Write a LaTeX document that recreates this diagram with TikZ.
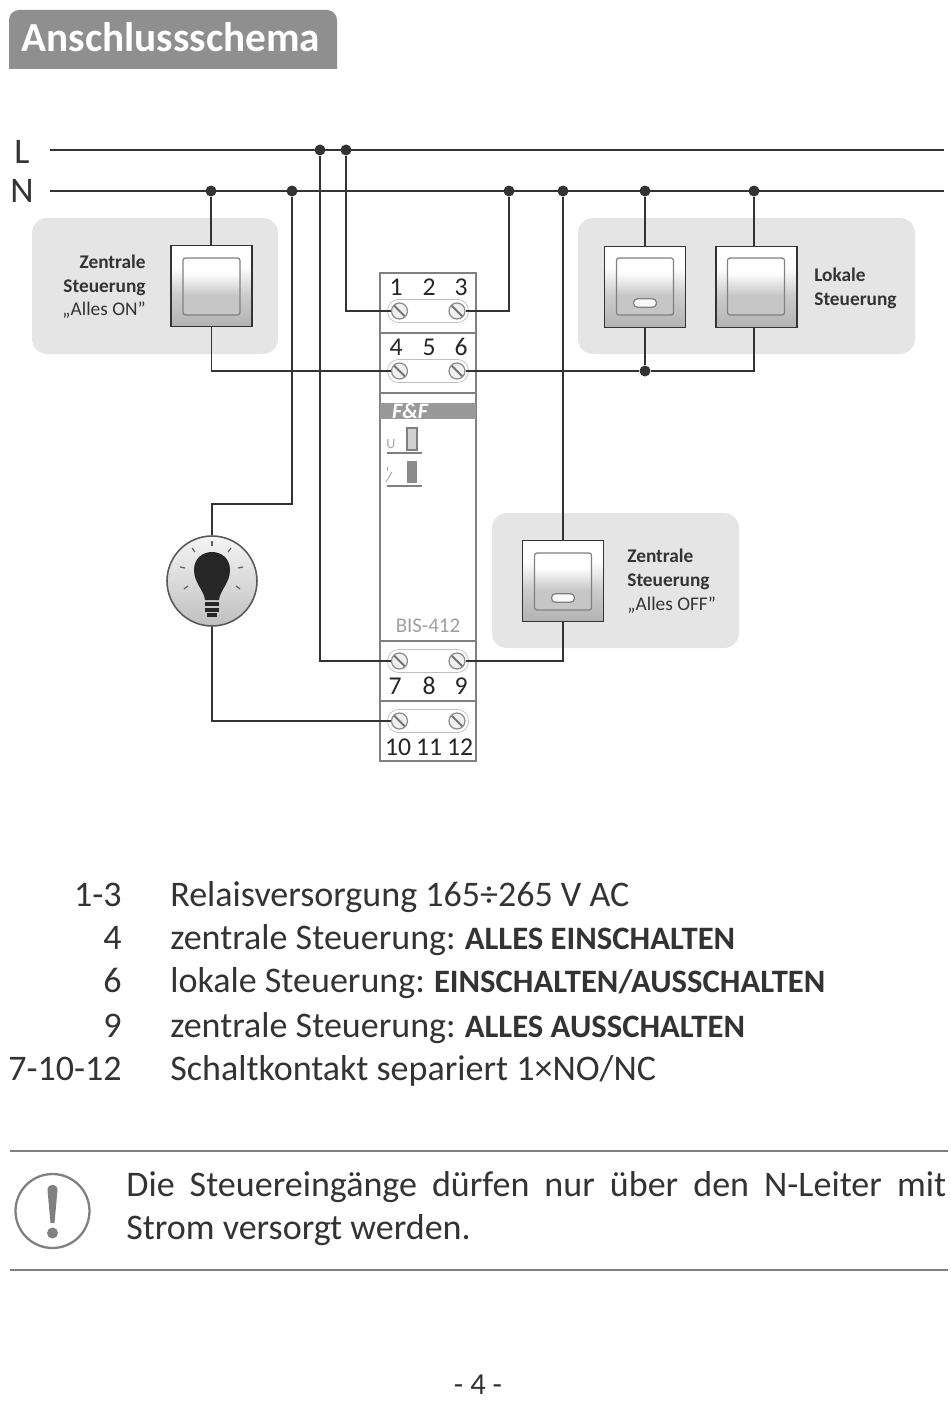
\documentclass[tikz,border=0pt]{standalone}
\usepackage{fontspec}
\setmainfont{Carlito}
\usetikzlibrary{calc}
\usetikzlibrary{positioning}

\pgfdeclareverticalshading{switchface}{100bp}{color(0bp)=(gray!60); color(25bp)=(gray!60); color(45bp)=(gray!40); color(62bp)=(white); color(75bp)=(white); color(100bp)=(white)}
\pgfdeclareverticalshading{innerface}{100bp}{color(0bp)=(gray!45); color(25bp)=(gray!45); color(42bp)=(gray!45); color(62bp)=(white); color(75bp)=(white); color(100bp)=(white)}

\newcommand{\bodysize}{\fontsize{20.5}{24.5}\selectfont}
\newcommand{\capsize}{\fontsize{18.6}{20}\selectfont\bfseries}
\newcommand{\smallsize}{\fontsize{11}{13.4}\selectfont}

\tikzset{
  wire/.style={draw=black!80, line width=0.8pt},
  jdot/.style={circle, fill=black!80, minimum size=0.22cm, inner sep=0pt},
  panel/.style={fill=gray!20, rounded corners=0.3cm},
  switchbox/.style={rectangle, draw=black!80, line width=0.9pt, shading=switchface, minimum width=1.62cm, minimum height=1.62cm, inner sep=0pt},
  switchtop/.style={rectangle, draw=gray, line width=0.7pt, rounded corners=0.05cm, shading=innerface, minimum size=1.14cm, inner sep=0pt},
  ledbar/.style={rectangle, draw=gray, line width=0.7pt, fill=white!95!gray, rounded corners=0.08cm, minimum width=0.46cm, minimum height=0.17cm, inner sep=0pt},
  pill/.style={rectangle, draw=gray!50, line width=0.4pt, fill=white, rounded corners=0.22cm, minimum width=1.62cm, minimum height=0.46cm, inner sep=0pt},
  screw/.style={circle, draw=gray!90, line width=0.7pt, fill=gray!12, minimum size=0.32cm, inner sep=0pt,
    path picture={\draw[gray!90!black, line width=1.2pt] (path picture bounding box.north west) -- (path picture bounding box.south east);}},
  pin/.style={text=black!85, font=\fontsize{14.6}{16}\selectfont, inner sep=0pt},
  lab/.style={text=black!80, font=\smallsize, inner sep=0pt},
  body/.style={text=black!80, font=\bodysize, inner sep=0pt}
}

\begin{document}
\begin{tikzpicture}[x=0.02cm, y=-0.02cm]
\useasboundingbox (0,0) rectangle (950,1402);

% title
\fill[gray!88] (9,69) [rounded corners=0.2cm] -- (9,10) -- (337,10) [sharp corners] -- (337,69) -- cycle;
\node[text=white, font=\fontsize{23.5}{26}\selectfont\bfseries, inner sep=0pt, anchor=base west] (title) at (21,52) {Anschlussschema};

% grey panels
\fill[panel] (32,218) rectangle (278,354);
\fill[panel] (578,218) rectangle (915,354);
\fill[panel] (492,513) rectangle (739,648);

% device
\node[draw=gray, line width=0.7pt, fill=white, minimum width=1.92cm, minimum height=9.76cm, inner sep=0pt] (relay) at (428,517) {};
\draw[gray, line width=0.7pt] (380,333) -- (476,333);
\draw[gray, line width=0.7pt] (380,393) -- (476,393);
\draw[gray, line width=0.7pt] (380,641) -- (476,641);
\draw[gray, line width=0.7pt] (380,701) -- (476,701);

\fill[gray!80] (380,403) rectangle (476,419);
\node[text=white, font=\fontsize{12.5}{13}\selectfont\bfseries\itshape, inner sep=0pt] (logo) at (410,411) {F\&F};

\node[text=gray!70, font=\fontsize{8}{9}\selectfont, inner sep=0pt] (ulabel) at (391,444) {U};
\draw[gray, line width=0.6pt, fill=gray!35] (407,428) rectangle (417,450);
\draw[gray, line width=0.7pt] (387,453) -- (422,453);
\draw[gray!70, line width=0.5pt] (386,482) -- (392,472);
\draw[gray!70, line width=0.5pt] (387,467) -- (387,471);
\fill[gray!90] (407,461) rectangle (417,483);
\draw[gray, line width=0.7pt] (387,486) -- (422,486);

\node[text=gray!75, font=\fontsize{11.9}{14}\selectfont, inner sep=0pt] (model) at (428,626) {BIS-412};

% terminal strips
\node[pill] (pa) at (428,311) {};
\node[pill] (pb) at (428,371) {};
\node[pill] (pc) at (428,661) {};
\node[pill] (pd) at (428,721) {};

\node[screw] (s1) at (399.5,311) {};
\node[screw] (s3) at (457,311) {};
\node[screw] (s4) at (399.5,371) {};
\node[screw] (s6) at (457,371) {};
\node[screw] (s7) at (399.5,661) {};
\node[screw] (s9) at (457,661) {};
\node[screw] (s10) at (399.5,721) {};
\node[screw] (s12) at (457,721) {};

\node[pin] (n1) at (396,287) {1};
\node[pin] (n2) at (429,287) {2};
\node[pin] (n3) at (461,287) {3};
\node[pin] (n4) at (396,347) {4};
\node[pin] (n5) at (429,347) {5};
\node[pin] (n6) at (461,347) {6};
\node[pin] (n7) at (395,686) {7};
\node[pin] (n8) at (429,686) {8};
\node[pin] (n9) at (461,686) {9};
\node[pin] (n10) at (398,747) {10};
\node[pin] (n11) at (429,747) {11};
\node[pin] (n12) at (460,747) {12};

% L and N
\node[body] (lname) at (22,152) {L};
\node[body] (nname) at (22,191) {N};
\coordinate (lstart) at (50,150);
\coordinate (lend) at (944,150);
\coordinate (nstart) at (50,191);
\coordinate (nend) at (944,191);

\node[jdot] (la) at (320,150) {};
\node[jdot] (lb) at (346,150) {};
\node[jdot] (na) at (211,191) {};
\node[jdot] (nb) at (292,191) {};
\node[jdot] (nc) at (509,191) {};
\node[jdot] (nd) at (563,191) {};
\node[jdot] (ne) at (645,191) {};
\node[jdot] (nf) at (754,191) {};
\node[jdot] (low) at (645,371) {};

% switches
\node[switchbox] (swon) at (211.5,286) {};
\node[switchbox] (swoff) at (563,581) {};
\node[switchbox] (swa) at (645,287) {};
\node[switchbox] (swb) at (756.5,287) {};

\node[switchtop] (topon) at (211.5,286.5) {};
\node[switchtop] (topoff) at (563,581.5) {};
\node[switchtop] (topa) at (645,286.5) {};
\node[switchtop] (topb) at (756,286.5) {};
\node[ledbar] (leda) at (645,303) {};
\node[ledbar] (ledoff) at (563,598) {};

% lamp
\node[circle, draw=black!65, line width=0.9pt, top color=gray!8, bottom color=gray!50, minimum size=1.8cm, inner sep=0pt] (lamp) at (212,581) {};
\coordinate (lampup) at (212,504);

\fill[black!85] (205,600) .. controls (204,590) and (194,583) .. (194,570)
  .. controls (194,546) and (230,546) .. (230,570)
  .. controls (230,583) and (220,590) .. (219,600) -- cycle;
\fill[black!85] (205,602) rectangle (219,606);
\fill[black!85] (205,608) rectangle (219,612);
\fill[black!85] (207,613) rectangle (217,617);

\draw[gray!75!black, line width=0.7pt] (212,541) -- (212,546);
\draw[gray!75!black, line width=0.7pt] (192,548) -- (195,552);
\draw[gray!75!black, line width=0.7pt] (231,548) -- (228,552);
\draw[gray!75!black, line width=0.7pt] (180,567) -- (185,568);
\draw[gray!75!black, line width=0.7pt] (243,567) -- (238,568);
\draw[gray!75!black, line width=0.7pt] (184,589) -- (188,586);
\draw[gray!75!black, line width=0.7pt] (240,589) -- (236,586);

% wires
\draw[wire] (lstart) -- (lend);
\draw[wire] (nstart) -- (nend);
\draw[wire] (lb) |- (s1);
\draw[wire] (s3) -| (nc);
\draw[wire] (na) -- (na |- swon.north);
\draw[wire] (swon) |- (s4);
\draw[wire] (s6) -- (low);
\draw[wire] (low) -- (swa);
\draw[wire] (ne) -- (swa);
\draw[wire] (low) -| (nf |- swb.south);
\draw[wire] (nf) -- (nf |- swb.north);
\draw[wire] (nb) |- (lampup) -- (lamp);
\draw[wire] (lamp) |- (s10);
\draw[wire] (la) |- (s7);
\draw[wire] (s9) -| (swoff);
\draw[wire] (nd) -- (swoff);

% panel labels
\node[lab, align=right, anchor=north east] (lon) at (146,255) {\textbf{Zentrale}\\\textbf{Steuerung}\\„Alles ON”};
\node[lab, align=left, anchor=north west] (llok) at (814,268) {\textbf{Lokale}\\\textbf{Steuerung}};
\node[lab, align=left, anchor=north west] (loff) at (627,549) {\textbf{Zentrale}\\\textbf{Steuerung}\\„Alles OFF”};

% legend
\node[body, anchor=base east] (ka) at (122,906) {1-3};
\node[body, anchor=base east] (kb) at (122,949) {4};
\node[body, anchor=base east] (kc) at (122,992) {6};
\node[body, anchor=base east] (kd) at (122,1037) {9};
\node[body, anchor=base east] (ke) at (122,1080) {7-10-12};
\node[body, anchor=base west] (ta) at (170,906) {Relaisversorgung 165÷265 V AC};
\node[body, anchor=base west] (tb) at (170,949) {zentrale Steuerung:\hspace{-1pt} {\capsize ALLES EINSCHALTEN}};
\node[body, anchor=base west] (tc) at (170,992) {lokale Steuerung:\hspace{-1pt} {\capsize EINSCHALTEN/AUSSCHALTEN}};
\node[body, anchor=base west] (td) at (170,1037) {zentrale Steuerung:\hspace{-1pt} {\capsize ALLES AUSSCHALTEN}};
\node[body, anchor=base west] (te) at (170,1080) {Schaltkontakt separiert 1×NO/NC};

% note
\draw[gray, line width=1.5pt] (10,1151) -- (948,1151);
\draw[gray, line width=0.8pt] (10,1270) -- (948,1270);
\node[circle, draw=gray, line width=1.3pt, minimum size=1.48cm, inner sep=0pt] (warn) at (52.5,1211) {};
\fill[gray] (47.5,1190) .. controls (47.5,1183) and (57.5,1183) .. (57.5,1190) -- (54.5,1223) -- (50.5,1223) -- cycle;
\fill[gray] (52.5,1233) circle[radius=0.11cm];
\node[text=black!80, font=\bodysize, inner sep=0pt, text width=16.4cm, align=justify, anchor=north west] (note) at (126,1171) {Die Steuereingänge dürfen nur über den N-Leiter mit Strom versorgt werden.};

% page number
\node[body, font=\fontsize{17.4}{18}\selectfont] (page) at (478,1385) {- 4 -};

\end{tikzpicture}
\end{document}
